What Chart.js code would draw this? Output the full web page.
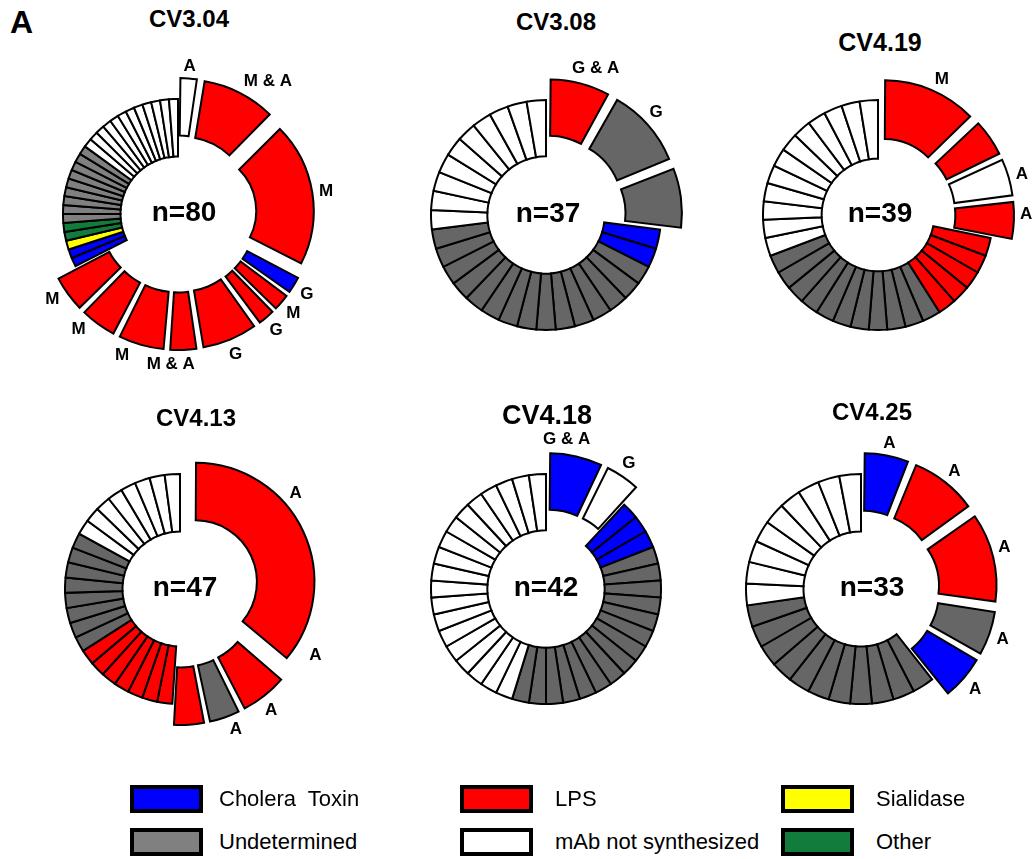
<!DOCTYPE html>
<html>
<head>
<meta charset="utf-8">
<script src="https://cdn.jsdelivr.net/npm/chart.js@4.4.1/dist/chart.umd.min.js"></script>
<style>
  html, body { margin: 0; padding: 0; background: #fff; }
  #page { position: relative; width: 1036px; height: 859px; overflow: hidden;
          font-family: "Liberation Sans", Arial, sans-serif; color: #000; }
  .title { position: absolute; font-weight: bold; transform: translate(-50%, -50%); white-space: nowrap; }
  .panel { position: absolute; left: 10px; top: 4px; font-weight: bold; font-size: 32px; }
  canvas { position: absolute; }
  .legBox { position: absolute; box-sizing: border-box; border: 4px solid #000; }
  .legText { position: absolute; font-size: 22px; transform: translateY(-50%); white-space: pre; }
</style>
</head>
<body>
<div id="page"><div class="panel">A</div></div>
<script>
// ---- Data: clonal families (size, specificity, isotype) and singleton counts per donor ----
const cv304FamilySizes    = [2, 8, 16, 2, 2, 2, 6, 3, 5, 4, 4];
const cv304FamilyTargets  = ['NS', 'LPS', 'LPS', 'CT', 'LPS', 'LPS', 'LPS', 'LPS', 'LPS', 'LPS', 'LPS'];
const cv304FamilyIsotypes = ['A', 'M & A', 'M', 'G', 'M', 'G', 'G', 'M & A', 'M', 'M', 'M'];
const cv304SingleTargets  = ['CT', 'SIA', 'OTH', 'UND', 'NS'];
const cv304SingleCounts   = [2, 1, 2, 9, 12];

const cv308FamilySizes    = [3, 4, 3];
const cv308FamilyTargets  = ['LPS', 'UND', 'UND'];
const cv308FamilyIsotypes = ['G & A', 'G', ''];
const cv308SingleTargets  = ['CT', 'UND', 'NS'];
const cv308SingleCounts   = [2, 15, 10];

const cv419FamilySizes    = [5, 2, 2, 2];
const cv419FamilyTargets  = ['LPS', 'LPS', 'NS', 'LPS'];
const cv419FamilyIsotypes = ['M', '', 'A', 'A'];
const cv419SingleTargets  = ['LPS', 'UND', 'NS'];
const cv419SingleCounts   = [5, 11, 12];

const cv413FamilySizes    = [17, 3, 2, 2];
const cv413FamilyTargets  = ['LPS', 'LPS', 'UND', 'LPS'];
const cv413FamilyIsotypes = ['A', 'A', 'A', 'A'];
const cv413SingleTargets  = ['LPS', 'UND', 'NS'];
const cv413SingleCounts   = [7, 8, 8];

const cv418FamilySizes    = [3, 2];
const cv418FamilyTargets  = ['CT', 'NS'];
const cv418FamilyIsotypes = ['G & A', 'G'];
const cv418SingleTargets  = ['CT', 'UND', 'NS'];
const cv418SingleCounts   = [3, 15, 19];

const cv425FamilySizes    = [2, 3, 4, 2, 2];
const cv425FamilyTargets  = ['CT', 'LPS', 'LPS', 'UND', 'CT'];
const cv425FamilyIsotypes = ['A', 'A', 'A', 'A', 'A'];
const cv425SingleTargets  = ['UND', 'NS'];
const cv425SingleCounts   = [11, 9];

const legendCodes  = ['CT', 'LPS', 'SIA', 'UND', 'NS', 'OTH'];
const legendNames  = ['Cholera  Toxin', 'LPS', 'Sialidase', 'Undetermined', 'mAb not synthesized', 'Other'];

// ---- Styling ----
const palette = { CT: '#0000FF', LPS: '#FF0000', SIA: '#FFFF00', OTH: '#127C3C', UND: '#666666', NS: '#FFFFFF' };
const legendPalette = Object.assign({}, palette, { UND: '#808080' });
const FONT = '"Liberation Sans", Arial, sans-serif';
const SHIFT = 21;          // radial pull-out of clonal families, px
const RADIUS = 115;

const panels = [
  { title: 'CV3.04', sizes: cv304FamilySizes, targets: cv304FamilyTargets, isotypes: cv304FamilyIsotypes,
    sTargets: cv304SingleTargets, sCounts: cv304SingleCounts,
    cx: 178, cy: 214, cut: '50%', und: '#808080', tx: 189, ty: 19, tsize: 24, ndx: 6,
    nudge: [0, 7, 0, 0, 0, 0, 0, 5, 6, 5, 2] },
  { title: 'CV3.08', sizes: cv308FamilySizes, targets: cv308FamilyTargets, isotypes: cv308FamilyIsotypes,
    sTargets: cv308SingleTargets, sCounts: cv308SingleCounts,
    cx: 546, cy: 215, cut: '51%', und: '#666666', tx: 556, ty: 22, tsize: 24, ndx: 2,
    nudge: [4, -2, 0] },
  { title: 'CV4.19', sizes: cv419FamilySizes, targets: cv419FamilyTargets, isotypes: cv419FamilyIsotypes,
    sTargets: cv419SingleTargets, sCounts: cv419SingleCounts,
    cx: 878, cy: 215, cut: '49%', und: '#666666', tx: 880, ty: 42, tsize: 25, ndx: 2,
    nudge: [2, 0, 0, -3] },
  { title: 'CV4.13', sizes: cv413FamilySizes, targets: cv413FamilyTargets, isotypes: cv413FamilyIsotypes,
    sTargets: cv413SingleTargets, sCounts: cv413SingleCounts,
    cx: 180, cy: 589, cut: '50%', und: '#666666', tx: 196, ty: 418, tsize: 24, ndx: 5,
    nudge: [-15, -26, -18, -18] },
  { title: 'CV4.18', sizes: cv418FamilySizes, targets: cv418FamilyTargets, isotypes: cv418FamilyIsotypes,
    sTargets: cv418SingleTargets, sCounts: cv418SingleCounts,
    cx: 546, cy: 589, cut: '51%', und: '#666666', tx: 547, ty: 415, tsize: 27, ndx: 0,
    nudge: [-5, -1] },
  { title: 'CV4.25', sizes: cv425FamilySizes, targets: cv425FamilyTargets, isotypes: cv425FamilyIsotypes,
    sTargets: cv425SingleTargets, sCounts: cv425SingleCounts,
    cx: 861, cy: 589, cut: '50%', und: '#666666', tx: 872, ty: 412, tsize: 24, ndx: 11,
    nudge: [0, 0, -3, 0, 0] }
];

// Isotype labels beside each pulled-out family and the sequence count in the hole
const familyLabels = {
  id: 'familyLabels',
  afterDatasetsDraw(chart, args, opts) {
    const ctx = chart.ctx;
    const meta = chart.getDatasetMeta(0);
    ctx.save();
    ctx.fillStyle = '#000';
    ctx.textAlign = 'center';
    ctx.textBaseline = 'middle';
    ctx.font = 'bold 17px ' + FONT;
    opts.labels.forEach((txt, i) => {
      if (!txt) return;
      const arc = meta.data[i].getProps(['x', 'y', 'startAngle', 'endAngle', 'outerRadius'], true);
      const a = (arc.startAngle + arc.endAngle) / 2 + (opts.nudge[i] || 0) * Math.PI / 180;
      const w = ctx.measureText(txt).width, h = 13;
      const ext = Math.abs(Math.cos(a)) * w / 2 + Math.abs(Math.sin(a)) * h / 2;
      const r = arc.outerRadius + SHIFT + 6 + ext;
      ctx.fillText(txt, arc.x + Math.cos(a) * r, arc.y + Math.sin(a) * r + 1);
    });
    const c = meta.data[0].getProps(['x', 'y'], true);
    ctx.font = 'bold 28px ' + FONT;
    ctx.fillText('n=' + opts.total, c.x + opts.ndx, c.y - 1);
    ctx.restore();
  }
};

const page = document.getElementById('page');
const SIZE = 420;

panels.forEach(p => {
  // one wedge per family, then one wedge per singleton sequence
  const values = [], targets = [], pulled = [];
  p.sizes.forEach((s, i) => { values.push(s); targets.push(p.targets[i]); pulled.push(true); });
  p.sTargets.forEach((t, i) => {
    for (let k = 0; k < p.sCounts[i]; k++) { values.push(1); targets.push(t); pulled.push(false); }
  });
  const total = values.reduce((a, b) => a + b, 0);
  const colors = targets.map(t => t === 'UND' ? p.und : palette[t]);
  // Chart.js arcs move offset/4 and grow their radii by offset/4*fix; pick offset so the net pull-out is SHIFT
  const offsets = values.map((v, i) => {
    if (!pulled[i]) return 0;
    const circ = v / total * 2 * Math.PI;
    const fix = 1 - Math.sin(Math.min(Math.PI, circ));
    return 4 * SHIFT / (1 + fix);
  });

  const t = document.createElement('div');
  t.className = 'title';
  t.textContent = p.title;
  t.style.left = p.tx + 'px';
  t.style.top = p.ty + 'px';
  t.style.fontSize = p.tsize + 'px';
  page.appendChild(t);

  const cv = document.createElement('canvas');
  cv.width = SIZE; cv.height = SIZE;
  cv.style.left = (p.cx - SIZE / 2) + 'px';
  cv.style.top = (p.cy - SIZE / 2) + 'px';
  page.appendChild(cv);

  new Chart(cv, {
    type: 'doughnut',
    data: {
      labels: targets,
      datasets: [{
        data: values,
        backgroundColor: colors,
        borderColor: '#000',
        borderWidth: 2,
        borderJoinStyle: 'miter',
        offset: offsets,
        hoverOffset: 0
      }]
    },
    options: {
      responsive: false,
      animation: false,
      events: [],
      radius: RADIUS,
      cutout: p.cut,
      layout: { padding: 0 },
      plugins: {
        legend: { display: false },
        tooltip: { enabled: false },
        familyLabels: { labels: p.isotypes, nudge: p.nudge, total: total, ndx: p.ndx }
      }
    },
    plugins: [familyLabels]
  });
});

// ---- Legend ----
const legBoxX  = [130, 460, 781];
const legTextX = [219, 555, 876];
const legRowY  = [785, 828];
legendCodes.forEach((code, i) => {
  const col = i % 3, row = Math.floor(i / 3);
  const b = document.createElement('div');
  b.className = 'legBox';
  b.style.left = legBoxX[col] + 'px';
  b.style.top = legRowY[row] + 'px';
  b.style.width = '73px';
  b.style.height = '28px';
  b.style.background = legendPalette[code];
  page.appendChild(b);
  const s = document.createElement('div');
  s.className = 'legText';
  s.textContent = legendNames[i];
  s.style.left = legTextX[col] + 'px';
  s.style.top = (legRowY[row] + 14) + 'px';
  page.appendChild(s);
});
</script>
</body>
</html>
